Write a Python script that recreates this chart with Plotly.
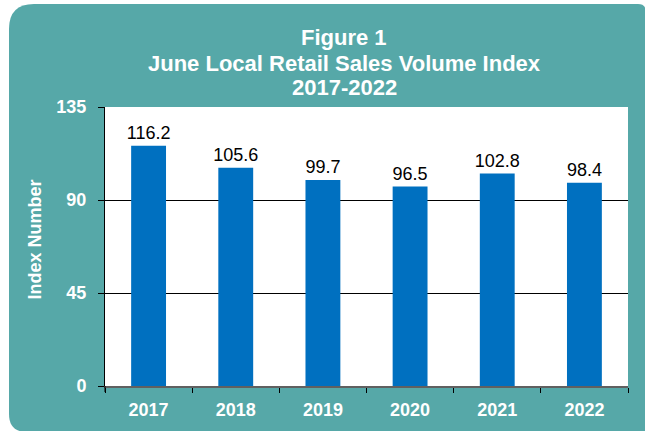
import plotly.graph_objects as go

years = ["2017", "2018", "2019", "2020", "2021", "2022"]
index_values = [116.2, 105.6, 99.7, 96.5, 102.8, 98.4]
y_ticks = [0, 45, 90, 135]
title_lines = ["Figure 1", "June Local Retail Sales Volume Index", "2017-2022"]
y_title = "Index Number"

W, H = 645, 431
PL, PR, PT, PB = 105, 628, 107, 386   # plot area edges in window pixels
L, R, T, B = PL, W - PR, PT, H - PB
PW, PH = W - L - R, H - T - B
TEAL = "#56A8A8"
BAR = "#0070C0"
FONT = "Liberation Sans, Arial, sans-serif"


def px(x):
    return (x - PL) / PW


def py(y):
    return (PB - y) / PH


fig = go.Figure()
fig.add_trace(go.Bar(
    x=years, y=index_values,
    marker=dict(color=BAR, line=dict(width=0)),
    text=[f"{v:.1f}" for v in index_values],
    textposition="outside",
    constraintext="none",
    textfont=dict(family=FONT, size=18, color="black"),
    cliponaxis=False,
    width=0.4,
))

# rounded teal background panel
path = (
    f"M {px(34)} {py(4)} L {px(638)} {py(4)} Q {px(646)} {py(4)} {px(646)} {py(12)} "
    f"L {px(646)} {py(432)} L {px(27)} {py(432)} Q {px(9)} {py(432)} {px(9)} {py(414)} "
    f"L {px(9)} {py(29)} Q {px(9)} {py(4)} {px(34)} {py(4)} Z"
)
shapes = [
    dict(type="path", xref="paper", yref="paper", path=path,
         fillcolor=TEAL, line=dict(width=0), layer="below"),
    dict(type="rect", xref="paper", yref="paper", x0=0, x1=1, y0=0, y1=1,
         fillcolor="white", line=dict(width=0), layer="below"),
    dict(type="line", xref="paper", yref="paper", x0=0, x1=0, y0=0, y1=py(392),
         line=dict(color="black", width=1)),
]

annotations = []
for line, yc in zip(title_lines, [37, 63.5, 87.5]):
    annotations.append(dict(
        text=line, xref="paper", yref="paper", x=px(344), y=py(yc),
        xanchor="center", yanchor="middle", showarrow=False,
        font=dict(family=FONT, size=22, color="white", weight="bold"),
    ))
annotations.append(dict(
    text=y_title, xref="paper", yref="paper", x=px(34.5), y=py(240),
    xanchor="center", yanchor="middle", showarrow=False, textangle=-90,
    font=dict(family=FONT, size=18, color="white", weight="bold"),
))

fig.update_layout(
    width=W, height=H,
    margin=dict(l=L, r=R, t=T, b=B, pad=0),
    paper_bgcolor="white",
    plot_bgcolor="rgba(0,0,0,0)",
    showlegend=False,
    shapes=shapes,
    annotations=annotations,
    xaxis=dict(
        type="category",
        showline=True, linecolor="#606060", linewidth=2,
        ticks="outside", tickson="boundaries", ticklen=5, tickcolor="black",
        tickfont=dict(family=FONT, size=18, color="white", weight="bold"),
        ticklabelstandoff=6,
        showgrid=False,
    ),
    yaxis=dict(
        range=[0, 135], tickvals=y_ticks,
        showline=True, linecolor="black", linewidth=1,
        ticks="outside", ticklen=6, tickcolor="black",
        tickfont=dict(family=FONT, size=18, color="white", weight="bold"),
        ticklabelstandoff=8,
        showgrid=True, gridcolor="black", gridwidth=1,
        zeroline=False,
    ),
)

fig.write_html(
    "out.html",
    config={"displayModeBar": False},
    post_script="document.body.style.margin='0';document.body.style.overflow='hidden';",
)
